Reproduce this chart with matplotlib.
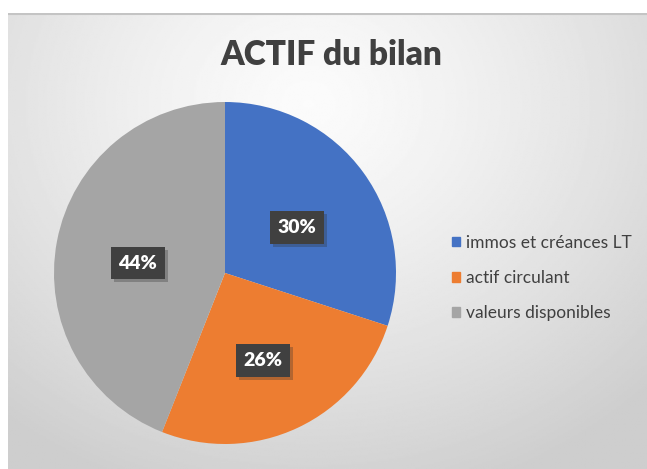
import matplotlib
matplotlib.use('Agg')
import matplotlib.pyplot as plt
import numpy as np
from matplotlib.patches import Rectangle

labels = ['immos et créances LT', 'actif circulant', 'valeurs disponibles']
shares = [30, 26, 44]
colors = ['#4472c4', '#ed7d31', '#a5a5a5']

W, H = 647, 469
fig = plt.figure(figsize=(W / 100, H / 100), dpi=100)
fig.patch.set_facecolor('white')
plt.rcParams['font.family'] = ['Lato', 'DejaVu Sans']

# radial gradient background of the chart area
bg = fig.add_axes([8 / W, 0, 1 - 8 / W, (H - 13) / H])
yy, xx = np.mgrid[0:1:300j, 0:1:400j]
d = np.sqrt(((xx - 0.47) / 0.75) ** 2 + ((yy - 0.2) / 0.9) ** 2)
d = np.clip(d, 0, 1)
img = 0.985 - 0.18 * d ** 1.3
bg.imshow(img, cmap='gray', vmin=0, vmax=1, extent=[0, 1, 1, 0], aspect='auto')
bg.set_xlim(0, 1)
bg.set_ylim(1, 0)
bg.axis('off')
bg.axhline(0.002, color='#c4c4c4', lw=1.5)

fig.text(331 / W, 1 - 55 / H, 'ACTIF du bilan', ha='center', va='center',
         fontsize=24, fontweight='heavy', color='#404040')

cx, cy, r = 225, 273, 171
ax = fig.add_axes([(cx - r) / W, (H - cy - r) / H, 2 * r / W, 2 * r / H])
wedges, _, autotexts = ax.pie(shares, colors=colors, startangle=90, counterclock=False,
                              autopct='%d%%', pctdistance=0.52,
                              textprops=dict(color='white', fontsize=14, fontweight='heavy'))
ax.set_xlim(-1, 1)
ax.set_ylim(-1, 1)
ax.set_aspect('equal')
for t in autotexts:
    x, y = t.get_position()
    t.set_position((x, y - 0.04))
    t.set_bbox(dict(boxstyle='square,pad=0.4', facecolor='#404040', edgecolor='none'))

# soft shadow behind each label box
fig.canvas.draw()
for t in autotexts:
    bb = t.get_bbox_patch().get_window_extent()
    sh = Rectangle((bb.x0 + 3, bb.y0 - 3), bb.width, bb.height, transform=None,
                   facecolor='#303030', edgecolor='none', alpha=0.3, zorder=t.get_zorder() - 0.5)
    ax.add_artist(sh)

handles = [Rectangle((0, 0), 1, 1, color=c) for c in colors]
fig.legend(handles, labels, loc='upper left', bbox_to_anchor=(436 / W, 1 - 219 / H),
           frameon=False, fontsize=12.5, labelcolor='#404040', handlelength=0.5,
           handleheight=0.5, handletextpad=0.3, labelspacing=1.1)

fig.savefig('out.png', dpi=100)
